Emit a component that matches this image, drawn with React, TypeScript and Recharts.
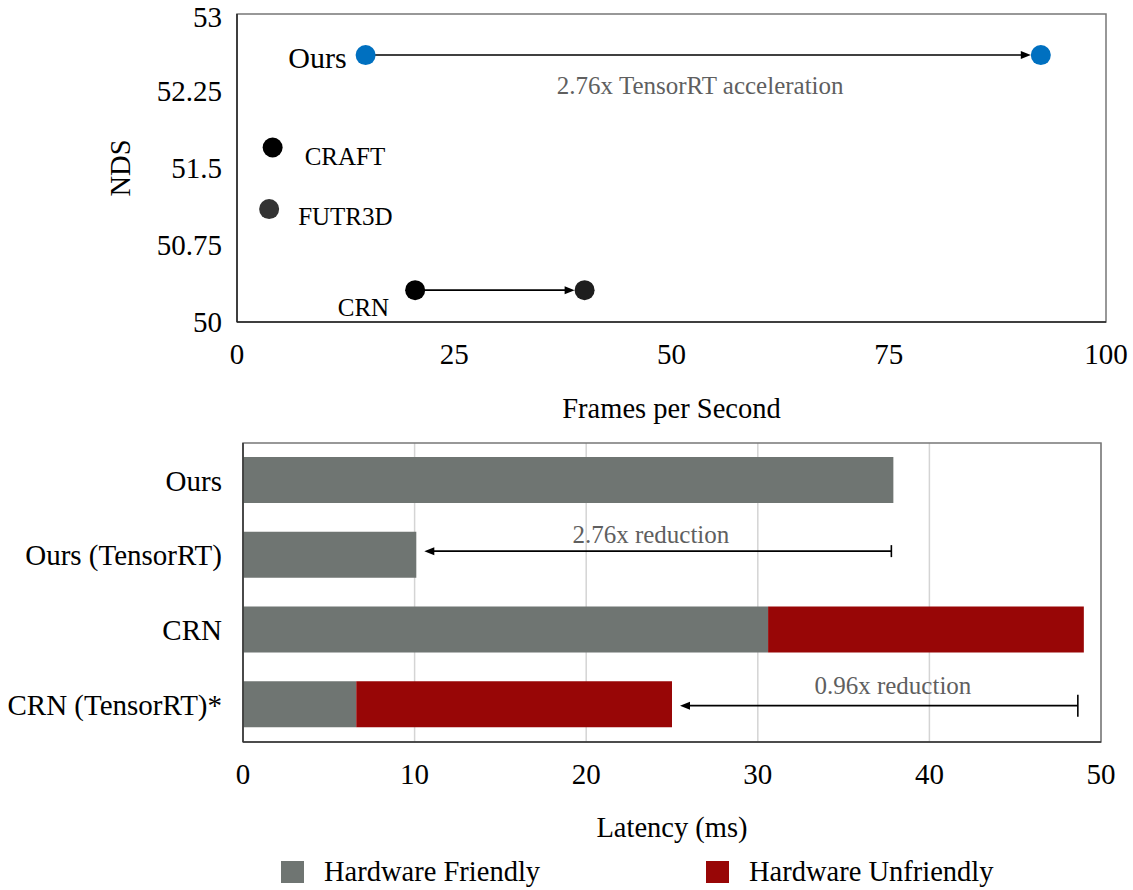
import React from 'react';
import {
  Bar,
  BarChart,
  CartesianGrid,
  Legend,
  ReferenceArea,
  ReferenceLine,
  Scatter,
  ScatterChart,
  XAxis,
  YAxis,
} from 'recharts';

// top chart: NDS vs FPS
const fpsTicks = [0, 25, 50, 75, 100];
const ndsTicks = [50, 50.75, 51.5, 52.25, 53];

const oursPoint = [{ name: 'Ours', fps: 14.8, nds: 52.6 }];
const oursTrtPoint = [{ name: 'Ours (TensorRT)', fps: 92.5, nds: 52.6 }];
const craftPoint = [{ name: 'CRAFT', fps: 4.1, nds: 51.7 }];
const futr3dPoint = [{ name: 'FUTR3D', fps: 3.7, nds: 51.1 }];
const crnPoint = [{ name: 'CRN', fps: 20.5, nds: 50.31 }];
const crnTrtPoint = [{ name: 'CRN (TensorRT)', fps: 40.0, nds: 50.31 }];

// bottom chart: latency breakdown
const methods = ['Ours', 'Ours (TensorRT)', 'CRN', 'CRN (TensorRT)*'];
const friendlyMs = [37.9, 10.1, 30.6, 6.6];
const unfriendlyMs = [0, 0, 18.4, 18.4];
const latencyTicks = [0, 10, 20, 30, 40, 50];

const latencyData = methods.map((method, i) => ({
  method,
  friendly: friendlyMs[i],
  unfriendly: unfriendlyMs[i],
  total: friendlyMs[i] + unfriendlyMs[i],
}));

const GREY = '#6f7572';
const RED = '#980606';
const BLUE = '#0070c0';
const NOTE = '#5f5f5f';
const FONT = '"Liberation Serif", "Times New Roman", serif';

type LabelOpt = { dx: number; dy: number; anchor: 'start' | 'end'; size: number };

const dot = (color: string, label?: LabelOpt) => (props: any) => (
  <g>
    <circle cx={props.cx} cy={props.cy} r={10} fill={color} />
    {label && (
      <text
        x={props.cx + label.dx}
        y={props.cy + label.dy}
        textAnchor={label.anchor}
        dominantBaseline="central"
        fontSize={label.size}
        fill="#000"
      >
        {props.payload.name}
      </text>
    )}
  </g>
);

type ArrowOpt = {
  trimStart: number;
  trimEnd: number;
  lineDy?: number;
  tick?: number;
  text?: string;
  textDx?: number;
  textDy?: number;
};

const arrow = (o: ArrowOpt) => (p: any) => {
  const { x1, x2 } = p;
  const y = p.y1 + (o.lineDy || 0);
  const dir = x2 > x1 ? 1 : -1;
  const sx = x1 + dir * o.trimStart;
  const ex = x2 - dir * o.trimEnd;
  return (
    <g>
      <line x1={sx} y1={y} x2={ex - dir * 6} y2={y} stroke="#000" strokeWidth={1.6} />
      <polygon
        points={`${ex},${y} ${ex - dir * 10},${y - 4} ${ex - dir * 10},${y + 4}`}
        fill="#000"
      />
      {o.tick && (
        <line x1={sx} y1={y - o.tick / 2} x2={sx} y2={y + o.tick / 2} stroke="#000" strokeWidth={1.6} />
      )}
      {o.text && (
        <text
          x={(x1 + x2) / 2 + (o.textDx || 0)}
          y={p.y1 + (o.textDy || 0)}
          textAnchor="middle"
          dominantBaseline="central"
          fontSize={25}
          fill={NOTE}
        >
          {o.text}
        </text>
      )}
    </g>
  );
};

const tickStyle = { fontSize: 29, fill: '#000' };

function LegendContent(props: any) {
  const lefts = [281, 706];
  return (
    <div style={{ position: 'relative', height: 36, width: 1133, fontFamily: FONT }}>
      {(props.payload || []).map((item: any, i: number) => (
        <div
          key={item.value}
          style={{ position: 'absolute', left: lefts[i], top: 0, height: 36, display: 'flex', alignItems: 'center' }}
        >
          <span style={{ width: 23, height: 22, background: item.color, display: 'inline-block' }} />
          <span style={{ marginLeft: 20, fontSize: 28.5, color: '#000' }}>{item.value}</span>
        </div>
      ))}
    </div>
  );
}

export default function App() {
  return (
    <div style={{ position: 'absolute', left: 0, top: 0, width: 1133, height: 890, background: '#fff', fontFamily: FONT }}>
      <ScatterChart width={1133} height={430} margin={{ top: 14, right: 27, left: 0, bottom: 0 }}>
        <XAxis
          type="number"
          dataKey="fps"
          domain={[0, 100]}
          ticks={fpsTicks}
          height={108}
          tickSize={0}
          tickMargin={21}
          tick={tickStyle}
          axisLine={{ stroke: '#222', strokeWidth: 1.5 }}
          label={{ value: 'Frames per Second', position: 'insideBottom', offset: 12, fontSize: 28.5, fill: '#000' }}
        />
        <YAxis
          type="number"
          dataKey="nds"
          domain={[50, 53]}
          ticks={ndsTicks}
          width={237}
          tickSize={0}
          tickMargin={15}
          tick={tickStyle}
          axisLine={{ stroke: '#222', strokeWidth: 1.5 }}
          label={{
            value: 'NDS',
            content: () => (
              <text x={120} y={168} transform="rotate(-90 120 168)" textAnchor="middle" dominantBaseline="central" fontSize={28.5} fill="#000">
                NDS
              </text>
            ),
          }}
        />
        <ReferenceArea x1={0} x2={100} y1={50} y2={53} fill="none" stroke="#777" strokeWidth={1.5} />
        <ReferenceLine
          segment={[
            { x: oursPoint[0].fps, y: oursPoint[0].nds },
            { x: oursTrtPoint[0].fps, y: oursTrtPoint[0].nds },
          ]}
          shape={arrow({ trimStart: 0, trimEnd: 10, text: '2.76x TensorRT acceleration', textDx: -3, textDy: 30 })}
        />
        <ReferenceLine
          segment={[
            { x: crnPoint[0].fps, y: crnPoint[0].nds },
            { x: crnTrtPoint[0].fps, y: crnTrtPoint[0].nds },
          ]}
          shape={arrow({ trimStart: 0, trimEnd: 10 })}
        />
        <Scatter data={oursPoint} isAnimationActive={false} shape={dot(BLUE, { dx: -19, dy: 2, anchor: 'end', size: 30 })} />
        <Scatter data={oursTrtPoint} isAnimationActive={false} shape={dot(BLUE)} />
        <Scatter data={craftPoint} isAnimationActive={false} shape={dot('#000', { dx: 32, dy: 9, anchor: 'start', size: 25 })} />
        <Scatter data={futr3dPoint} isAnimationActive={false} shape={dot('#333', { dx: 29, dy: 7, anchor: 'start', size: 25 })} />
        <Scatter data={crnPoint} isAnimationActive={false} shape={dot('#000', { dx: -26, dy: 17, anchor: 'end', size: 25 })} />
        <Scatter data={crnTrtPoint} isAnimationActive={false} shape={dot('#1e1e1e')} />
      </ScatterChart>

      <BarChart
        width={1133}
        height={460}
        layout="vertical"
        data={latencyData}
        margin={{ top: 13, right: 32, left: 0, bottom: 0 }}
      >
        <CartesianGrid horizontal={false} stroke="#d4d4d4" strokeWidth={1.5} />
        <XAxis
          type="number"
          domain={[0, 50]}
          ticks={latencyTicks}
          height={112}
          tickSize={0}
          tickMargin={21}
          tick={tickStyle}
          axisLine={{ stroke: '#333', strokeWidth: 1.5 }}
          label={{ value: 'Latency (ms)', position: 'insideBottom', offset: 17, fontSize: 28.5, fill: '#000' }}
        />
        <YAxis
          type="category"
          dataKey="method"
          width={243}
          tickSize={0}
          tickMargin={21}
          tick={tickStyle}
          axisLine={{ stroke: '#333', strokeWidth: 1.5 }}
        />
        <Legend verticalAlign="bottom" height={36} wrapperStyle={{ left: 0, width: 1133 }} content={LegendContent} />
        <Bar dataKey="friendly" name="Hardware Friendly" stackId="t" fill={GREY} barSize={46} isAnimationActive={false} />
        <Bar dataKey="unfriendly" name="Hardware Unfriendly" stackId="t" fill={RED} barSize={46} isAnimationActive={false} />
        <ReferenceArea x1={0} x2={50} fill="none" stroke="#777" strokeWidth={1.5} />
        <ReferenceLine
          segment={[
            { x: latencyData[0].total, y: methods[1] },
            { x: latencyData[1].total, y: methods[1] },
          ]}
          shape={arrow({ trimStart: 2, trimEnd: 8, lineDy: -4, tick: 12, text: '2.76x reduction', textDx: -4, textDy: -21 })}
        />
        <ReferenceLine
          segment={[
            { x: latencyData[2].total, y: methods[3] },
            { x: latencyData[3].total, y: methods[3] },
          ]}
          shape={arrow({ trimStart: 6, trimEnd: 8, lineDy: 1, tick: 22, text: '0.96x reduction', textDx: 15, textDy: -19 })}
        />
      </BarChart>
    </div>
  );
}
